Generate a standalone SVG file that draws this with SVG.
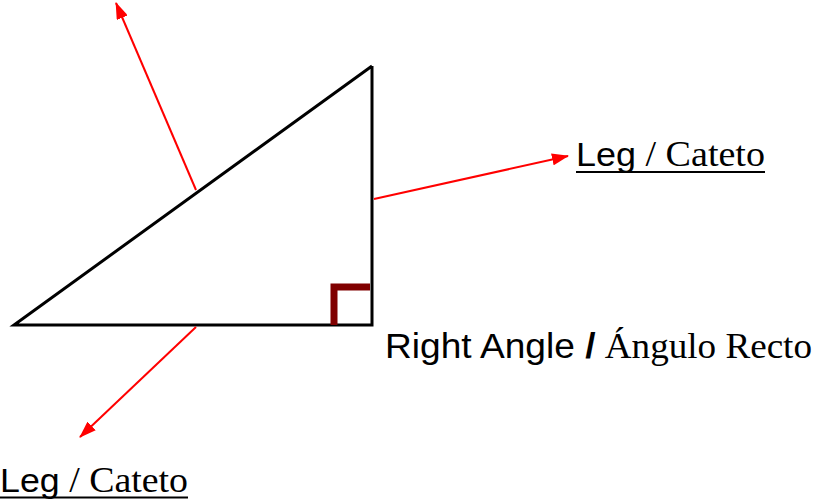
<svg xmlns="http://www.w3.org/2000/svg" width="820" height="502" viewBox="0 0 820 502">
<style>
.edge{stroke:#000;stroke-width:3;fill:none}
.arr{stroke:#ff0000;stroke-width:2;fill:none;marker-end:url(#ah)}
.sans{font-family:"Liberation Sans",Arial,sans-serif;fill:#000}
.serif{font-family:"Liberation Serif","Times New Roman",serif;fill:#000}
.ul{stroke:#000;stroke-width:2}
</style>
<defs>
<marker id="ah" viewBox="0 0 17 12" refX="16" refY="6" markerWidth="17" markerHeight="12" markerUnits="userSpaceOnUse" orient="auto">
<path d="M0,0 L17,6 L0,12 z" fill="#ff0000"/>
</marker>
</defs>
<rect width="820" height="502" fill="#fff"/>
<g id="triangle">
<polyline class="edge" points="372,66 372,325 14,325 372,66"/>
<polyline id="right-angle-mark" points="334,325 334,287 370,287" fill="none" stroke="#800000" stroke-width="7"/>
</g>
<g id="connectors">
<line class="arr" x1="196" y1="190" x2="116" y2="3"/>
<line class="arr" x1="374" y1="199" x2="568" y2="156"/>
<line class="arr" x1="196" y1="327" x2="80" y2="437"/>
</g>
<g id="label-leg-right">
<text x="576" y="166" textLength="189" lengthAdjust="spacingAndGlyphs"><tspan class="sans" font-size="34">Leg</tspan><tspan class="serif" font-size="36"> / Cateto</tspan></text>
<line class="ul" x1="576" y1="172" x2="765" y2="172"/>
</g>
<g id="label-right-angle">
<text x="385" y="358" textLength="427" lengthAdjust="spacingAndGlyphs"><tspan class="sans" font-size="35">Right Angle </tspan><tspan class="sans" font-size="35" font-weight="bold">/</tspan><tspan class="serif" font-size="35"> Ángulo Recto</tspan></text>
</g>
<g id="label-leg-bottom">
<text x="0" y="492" textLength="188" lengthAdjust="spacingAndGlyphs"><tspan class="sans" font-size="34">Leg</tspan><tspan class="serif" font-size="36"> / Cateto</tspan></text>
<line class="ul" x1="0" y1="497.5" x2="188" y2="497.5"/>
</g>
</svg>
